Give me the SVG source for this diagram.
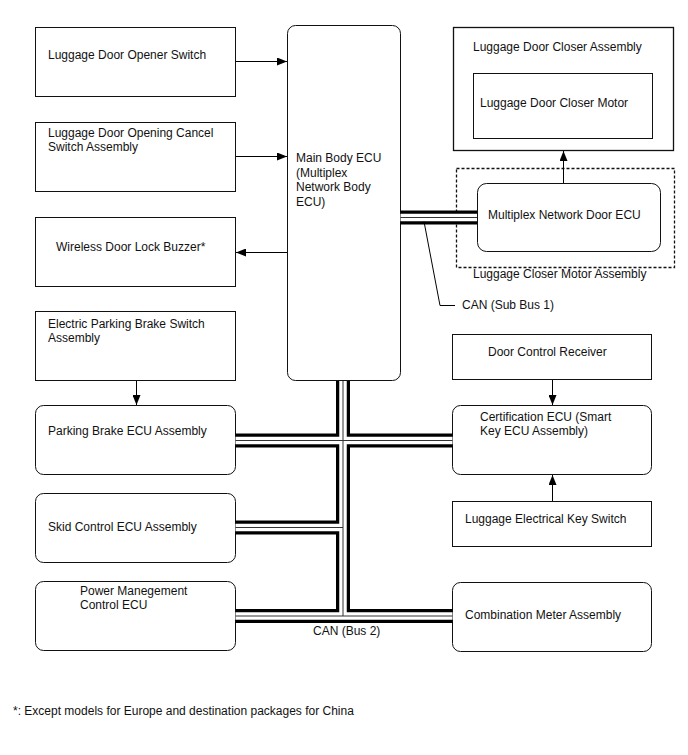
<svg xmlns="http://www.w3.org/2000/svg" width="688" height="755" viewBox="0 0 688 755">
<defs>
<marker id="ah" markerWidth="10" markerHeight="8" refX="10" refY="4" orient="auto" markerUnits="userSpaceOnUse">
<path d="M0,0 L10,4 L0,8 z" fill="#000"/>
</marker>
<style>
.box{fill:#fff;stroke:#111;stroke-width:1}
.dot{fill:none;stroke:#111;stroke-width:1.3;stroke-dasharray:3 2}
text{font-family:"Liberation Sans",Arial,sans-serif;font-size:12px;fill:#111}
.arr{fill:none;stroke:#000;stroke-width:1;marker-end:url(#ah)}
.b1{fill:none;stroke:#000;stroke-width:14}
.b2{fill:none;stroke:#fff;stroke-width:7.5}
.b3{fill:none;stroke:#333;stroke-width:1}
.lead{fill:none;stroke:#000;stroke-width:1}
</style>
</defs>
<rect width="688" height="755" fill="#fff"/>
<g id="nodes">
<g id="opener"><rect class="box" x="35.5" y="27.5" width="200" height="69"/><text x="48" y="59">Luggage Door Opener Switch</text></g>
<g id="cancel"><rect class="box" x="35.5" y="122.5" width="200" height="69"/><text x="48" y="137">Luggage Door Opening Cancel</text><text x="48" y="151">Switch Assembly</text></g>
<g id="buzzer"><rect class="box" x="35.5" y="217.5" width="200" height="69"/><text x="56" y="251">Wireless Door Lock Buzzer*</text></g>
<g id="epbswitch"><rect class="box" x="35.5" y="311.5" width="200" height="69"/><text x="48" y="327.5">Electric Parking Brake Switch</text><text x="48" y="341.5">Assembly</text></g>
<g id="pbecu"><rect class="box" x="35.5" y="405.5" width="200" height="69" rx="8"/><text x="48" y="435">Parking Brake ECU Assembly</text></g>
<g id="skid"><rect class="box" x="35.5" y="493.5" width="200" height="69" rx="8"/><text x="48" y="531">Skid Control ECU Assembly</text></g>
<g id="power"><rect class="box" x="35.5" y="581.5" width="200" height="69" rx="8"/><text x="80" y="595">Power Manegement</text><text x="80" y="609">Control ECU</text></g>
<g id="mainbody"><rect class="box" x="287.5" y="25.5" width="113" height="355" rx="8"/><text x="296" y="162">Main Body ECU</text><text x="296" y="176.5">(Multiplex</text><text x="296" y="191">Network Body</text><text x="296" y="205.5">ECU)</text></g>
<g id="closerassy"><rect class="box" x="453.5" y="27.5" width="220" height="123" style="stroke-width:1.3"/><text x="473" y="51">Luggage Door Closer Assembly</text></g>
<g id="closermotor"><rect class="box" x="473.5" y="73.5" width="179" height="65"/><text x="480" y="107">Luggage Door Closer Motor</text></g>
<g id="closermotorassy"><rect class="dot" x="456.5" y="168.5" width="218" height="99"/><text x="473" y="277.5">Luggage Closer Motor Assembly</text></g>
<g id="doorecu"><rect class="box" x="477.5" y="183.5" width="183" height="68" rx="9"/><text x="488" y="219">Multiplex Network Door ECU</text></g>
<g id="receiver"><rect class="box" x="452.5" y="334.5" width="199" height="45"/><text x="488" y="356">Door Control Receiver</text></g>
<g id="certecu"><rect class="box" x="452.5" y="405.5" width="199" height="69" rx="8"/><text x="480" y="421">Certification ECU (Smart</text><text x="480" y="435">Key ECU Assembly)</text></g>
<g id="keyswitch"><rect class="box" x="452.5" y="501.5" width="199" height="45"/><text x="465" y="523">Luggage Electrical Key Switch</text></g>
<g id="meter"><rect class="box" x="452.5" y="582.5" width="199" height="69" rx="8"/><text x="465" y="619">Combination Meter Assembly</text></g>
</g>
<g id="connectors">
<g class="b1"><path d="M400.5,217.5H477"/><path d="M343,381V616"/><path d="M235.5,440.5H452.5"/><path d="M235.5,527.5H343"/><path d="M235.5,616H452.5"/></g>
<g class="b2"><path d="M400.5,217.5H477"/><path d="M343,381V616"/><path d="M235.5,440.5H452.5"/><path d="M235.5,527.5H343"/><path d="M235.5,616H452.5"/></g>
<g class="b3"><path d="M400.5,217.5H477"/><path d="M343,381V616"/><path d="M235.5,440.5H452.5"/><path d="M235.5,527.5H343"/><path d="M235.5,616H452.5"/></g>
<path class="lead" d="M424,221.5L440,305.5H455"/>
<path class="arr" d="M236,61.5H287"/>
<path class="arr" d="M236,156.5H287"/>
<path class="arr" d="M287,252.5H236"/>
<path class="arr" d="M136.5,381V405"/>
<path class="arr" d="M563.5,183V151"/>
<path class="arr" d="M552.5,380V405"/>
<path class="arr" d="M552.5,501V475"/>
</g>
<g id="labels">
<text x="462" y="309">CAN (Sub Bus 1)</text>
<text x="313" y="635">CAN (Bus 2)</text>
<text x="13" y="715">*: Except models for Europe and destination packages for China</text>
</g>
</svg>
